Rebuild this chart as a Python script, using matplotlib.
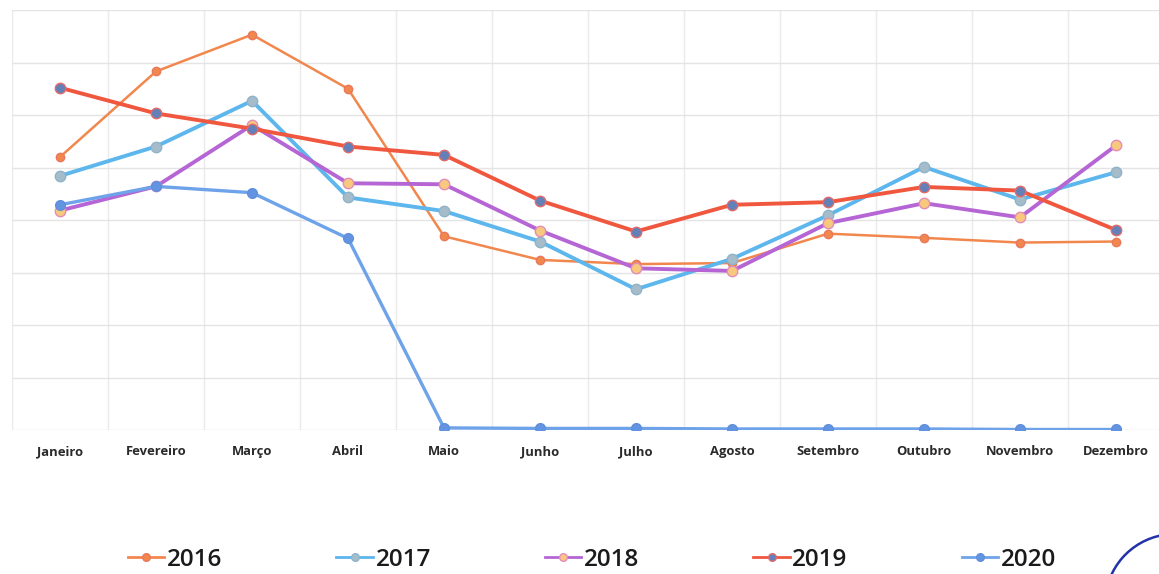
import matplotlib
matplotlib.use("Agg")
import matplotlib.pyplot as plt
from matplotlib.patches import Arc

months = ["Janeiro", "Fevereiro", "Março", "Abril", "Maio", "Junho", "Julho",
          "Agosto", "Setembro", "Outubro", "Novembro", "Dezembro"]
y2016 = [52.0, 68.3, 75.3, 65.0, 36.9, 32.4, 31.6, 31.8, 37.4, 36.6, 35.7, 35.9]
y2017 = [48.4, 54.0, 62.7, 44.3, 41.7, 35.9, 26.8, 32.6, 40.9, 50.1, 43.9, 49.1]
y2018 = [41.8, 46.4, 58.1, 47.0, 46.8, 38.0, 30.8, 30.3, 39.4, 43.2, 40.5, 54.2]
y2019 = [65.2, 60.3, 57.4, 54.0, 52.4, 43.7, 37.8, 42.9, 43.4, 46.3, 45.6, 38.1]
y2020 = [42.9, 46.4, 45.2, 36.5, 0.4, 0.3, 0.3, 0.2, 0.2, 0.2, 0.1, 0.1]
years = ["2016", "2017", "2018", "2019", "2020"]

W, H = 1159, 574
fig = plt.figure(figsize=(W / 100, H / 100), dpi=100)
ax = fig.add_axes([12 / W, (H - 430) / H, 1152 / W, 420 / H])

x = list(range(len(months)))
styles = [
    dict(data=y2016, color="#F2874E", lw=1.8, mfc="#F2874E", mec="#E9785A", ms=6),
    dict(data=y2017, color="#5DB6EC", lw=2.8, mfc="#A5BDCB", mec="#8FB3C9", ms=7.5),
    dict(data=y2018, color="#B566D4", lw=2.8, mfc="#F8C97C", mec="#E48DB8", ms=7.5),
    dict(data=y2019, color="#F0573F", lw=2.8, mfc="#6380B8", mec="#E26A6A", ms=7.5),
    dict(data=y2020, color="#6EA3EA", lw=2.4, mfc="#6294E2", mec="#5F8FDD", ms=7),
]
handles = []
for i, (yr, s) in enumerate(zip(years, styles)):
    ax.plot(x, s["data"], color=s["color"], lw=s["lw"], marker="o",
            ms=s["ms"], mfc=s["mfc"], mec=s["mec"], mew=1.0,
            zorder=3 + i, label=yr)
    h, = ax.plot([], [], color=s["color"], lw=2.0, marker="o", ms=5.5,
                 mfc=s["mfc"], mec=s["mec"], mew=1.0)
    handles.append(h)

ax.set_xlim(-0.5, 11.5)
ax.set_ylim(0, 80)
ax.set_yticks(range(0, 81, 10))
ax.set_xticks(x)
ax.set_xticklabels(months, fontfamily="Open Sans", fontweight="bold",
                   fontsize=9.4, color="#2a2a2a")
ax.set_xticks([i - 0.5 for i in range(13)], minor=True)
ax.tick_params(axis="both", which="both", length=0)
ax.tick_params(axis="x", pad=11)
ax.set_yticklabels([])
ax.grid(True, axis="y", which="major", color="#E4E4E4", lw=1.0)
ax.grid(True, axis="x", which="minor", color="#EAEAEA", lw=1.0)
for sp in ax.spines.values():
    sp.set_visible(False)

leg = fig.legend(handles=handles, labels=years, loc="center", ncol=5,
                 bbox_to_anchor=(592 / W, 1 - 560 / H), frameon=False,
                 prop={"family": "Open Sans", "weight": "semibold", "size": 17.5},
                 handlelength=1.5, handletextpad=0.1, columnspacing=4.7,
                 borderpad=0, borderaxespad=0)
for t in leg.get_texts():
    t.set_color("#1a1a1a")

# stamp arc at bottom right corner
arc = Arc((1175 / W, -30 / H), 140 / W, 140 / H, theta1=95, theta2=175,
          transform=fig.transFigure, color="#2233AA", lw=1.8)
fig.add_artist(arc)

fig.savefig("out.png", dpi=100)
